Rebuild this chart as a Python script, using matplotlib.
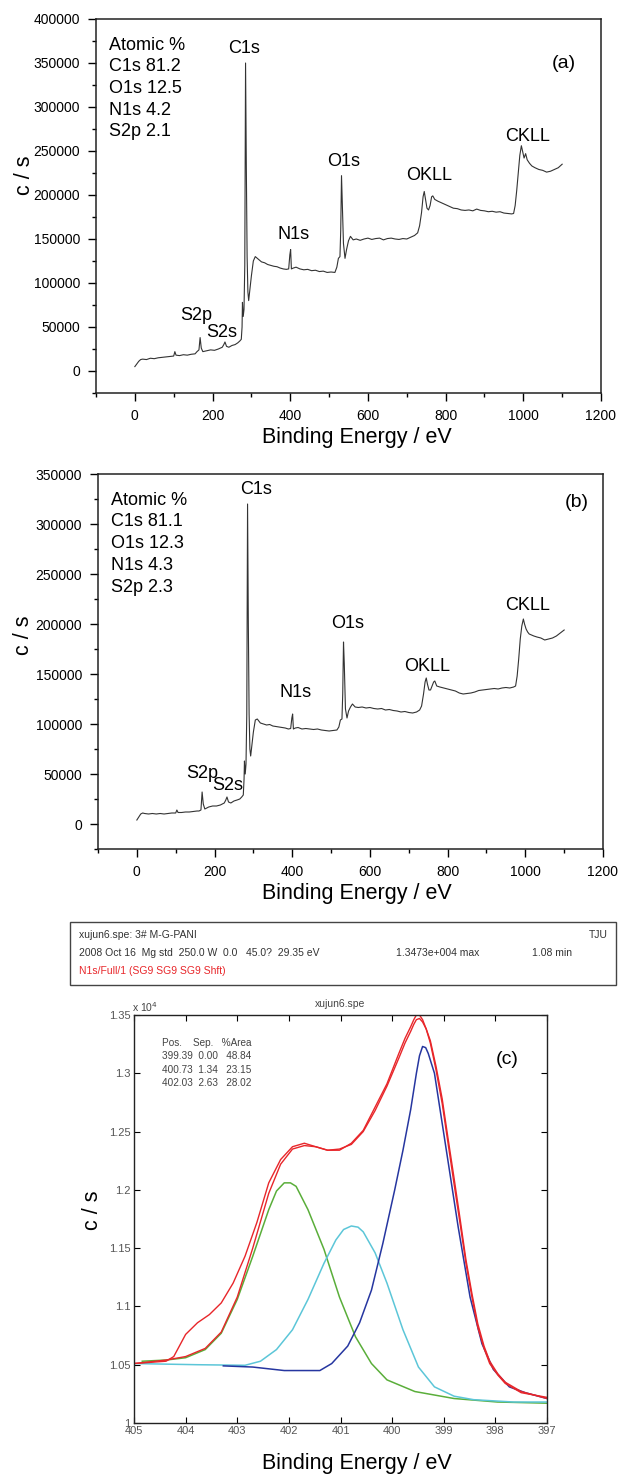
import matplotlib
matplotlib.use("Agg")
import matplotlib.pyplot as plt
from matplotlib.ticker import MultipleLocator
from matplotlib.patches import Rectangle

plt.rcParams["font.family"] = ["Liberation Sans", "DejaVu Sans"]

# ---- survey spectrum (a), binding energy (eV) / counts (x1000 c/s)
a_be = [0, 5, 10, 15, 20, 30, 40, 50, 60, 70, 80, 90, 100, 103, 106, 115, 125, 135, 145, 155,
        160, 165, 168, 171, 175, 185, 195, 205, 215, 225, 229, 232, 236, 242, 250, 258, 265, 270,
        274, 276, 277, 279, 281, 283, 285, 287, 289, 291, 293, 296, 300, 305, 310, 318, 326, 334,
        342, 350, 358, 366, 374, 382, 390, 396, 399, 401, 403, 408, 415, 425, 435, 445, 455, 465,
        475, 485, 495, 505, 515, 520, 524, 528, 530, 532, 534, 537, 541, 545, 550, 555, 562, 570,
        580, 590, 600, 610, 620, 630, 640, 650, 660, 670, 680, 690, 700, 710, 720, 728, 733, 738,
        742, 745, 748, 752, 756, 760, 764, 767, 772, 780, 790, 800, 810, 820, 830, 840, 850, 860,
        870, 880, 890, 900, 910, 920, 930, 940, 950, 960, 970, 975, 979, 983, 987, 991, 995, 998,
        1002, 1006, 1010, 1016, 1022, 1030, 1040, 1050, 1060, 1070, 1080, 1090, 1100]
a_cps = [5, 8, 11, 13, 13.5, 13, 14.5, 14, 15, 15.5, 16, 16.5, 17, 22, 18, 17.5, 18.5, 18, 19, 19.5,
         22, 24, 38, 26, 22, 23, 24, 23.5, 25, 27, 30, 33, 28, 27, 29, 30, 32, 34,
         36, 50, 78, 62, 70, 120, 350, 230, 130, 90, 80, 92, 108, 125, 130, 127, 124, 123,
         121, 120, 119, 118.5, 117, 116, 115.5, 116, 132, 138, 116, 117, 118, 116, 115, 115.5, 114, 114.5,
         113, 113.5, 112, 112.5, 112, 118, 128, 130, 160, 222, 190, 145, 128, 138, 148, 153, 149, 150,
         148.5, 150, 151, 149.5, 150.5, 151, 149, 150.5, 151, 150, 149.5, 150.5, 150, 152, 154, 157, 165, 180,
         198, 204, 196, 185, 183, 188, 198, 199, 195, 193, 191, 189, 187, 185, 184.5, 183, 182.5, 183,
         182, 184, 182.5, 182, 181, 181.5, 180.5, 181, 179.5, 179, 178.5, 179, 188, 205, 225, 245, 256, 250,
         242, 247, 240, 236, 233, 231, 229, 228, 226, 227, 229, 231, 235]

# ---- survey spectrum (b)
b_be = a_be
b_cps = [4, 7, 10, 11, 10.5, 10, 10.5, 10, 10.5, 10, 10.5, 11, 11, 14, 11.5, 11.5, 12, 12, 12.5, 13,
         13, 14, 32, 20, 15, 17, 18, 18, 19, 21, 24, 27, 22, 21, 23, 24, 25, 27,
         29, 45, 63, 50, 60, 110, 320, 200, 110, 75, 68, 78, 92, 104, 105, 101, 100, 99,
         99.5, 98, 97.5, 97, 96.5, 96, 95, 95.5, 106, 110, 95, 96, 96.5, 95, 95.5, 95, 94.5, 95,
         94, 93.5, 93, 93.5, 94, 97, 104, 105, 130, 182, 160, 115, 106, 113, 117, 120, 117, 116.5,
         117, 116, 116.5, 115.5, 115, 115.5, 114, 114.5, 113.5, 113, 112, 112.5, 111.5, 111, 112, 114, 118, 130,
         142, 146, 140, 134, 134, 138, 142, 143, 138, 137, 136, 135, 134, 133, 131, 130, 130.5, 131,
         132, 133.5, 134, 134.5, 135, 135.5, 135, 136, 136.5, 136, 137, 138, 148, 165, 185, 198, 205, 200,
         195, 192, 190, 189, 188, 187, 186, 184, 185, 186, 188, 191, 194]

atomic_a = ["Atomic %", "C1s 81.2", "O1s 12.5", "N1s 4.2", "S2p 2.1"]
atomic_b = ["Atomic %", "C1s 81.1", "O1s 12.3", "N1s 4.3", "S2p 2.3"]
peaks = ["C1s", "N1s", "O1s", "OKLL", "CKLL", "S2p", "S2s"]
peak_pos_a = [(281, 367), (409, 155), (537, 238), (758, 222), (1011, 267), (157, 63.5), (224, 44)]
peak_pos_b = [(306, 334), (409, 131.6), (542, 200.6), (747, 157.3), (1006, 219), (167, 50.7), (233, 38)]

# ---- N1s high-resolution fit (c), counts in units of 1e4 c/s
raw_be = [405.0, 404.38, 404.23, 404.0, 403.77, 403.54, 403.31, 403.08, 402.85, 402.62, 402.39,
          402.16, 401.93, 401.7, 401.48, 401.25, 401.02, 400.79, 400.56, 400.33, 400.1, 399.87,
          399.75, 399.64, 399.58, 399.53, 399.47, 399.41, 399.34, 399.26, 399.15, 399.03, 398.92,
          398.8, 398.68, 398.57, 398.45, 398.34, 398.22, 398.11, 397.95, 397.81, 397.5, 397.0]
raw_cps = [1.051, 1.053, 1.057, 1.076, 1.086, 1.093, 1.103, 1.120, 1.143, 1.172, 1.206,
           1.226, 1.237, 1.240, 1.237, 1.234, 1.234, 1.240, 1.251, 1.271, 1.291, 1.317,
           1.330, 1.340, 1.346, 1.350, 1.350, 1.346, 1.338, 1.326, 1.303, 1.274, 1.241,
           1.205, 1.170, 1.137, 1.107, 1.082, 1.064, 1.051, 1.041, 1.034, 1.026, 1.022]
env_be = [405.0, 404.38, 404.0, 403.62, 403.31, 403.0, 402.7, 402.39, 402.16, 401.93, 401.7,
          401.48, 401.25, 401.02, 400.79, 400.56, 400.33, 400.1, 399.87, 399.75, 399.64, 399.58,
          399.53, 399.47, 399.41, 399.34, 399.26, 399.15, 399.03, 398.92, 398.8, 398.68, 398.57,
          398.45, 398.34, 398.22, 398.11, 397.95, 397.81, 397.5, 397.0]
env_cps = [1.051, 1.054, 1.057, 1.064, 1.078, 1.108, 1.150, 1.197, 1.222, 1.235, 1.238,
           1.237, 1.234, 1.235, 1.239, 1.250, 1.268, 1.289, 1.313, 1.326, 1.336, 1.342,
           1.346, 1.347, 1.344, 1.338, 1.328, 1.306, 1.278, 1.245, 1.210, 1.174, 1.140,
           1.110, 1.085, 1.066, 1.053, 1.042, 1.035, 1.027, 1.021]
p1_be = [403.27, 402.7, 402.09, 401.4, 401.17, 400.86, 400.63, 400.4, 400.18, 399.95, 399.79,
         399.64, 399.53, 399.47, 399.41, 399.35, 399.3, 399.18, 398.95, 398.72, 398.49, 398.26,
         398.04, 397.73, 397.42, 397.0]
p1_cps = [1.049, 1.048, 1.045, 1.045, 1.051, 1.066, 1.086, 1.114, 1.154, 1.200, 1.234,
          1.269, 1.300, 1.315, 1.323, 1.322, 1.317, 1.300, 1.234, 1.168, 1.108, 1.068,
          1.046, 1.031, 1.026, 1.021]
p2_be = [405.0, 403.77, 402.85, 402.55, 402.24, 401.93, 401.63, 401.32, 401.09, 400.94, 400.79,
         400.66, 400.56, 400.33, 400.1, 399.79, 399.49, 399.18, 398.8, 398.42, 397.65, 397.0]
p2_cps = [1.051, 1.050, 1.0495, 1.053, 1.063, 1.080, 1.106, 1.137, 1.157, 1.166, 1.169,
          1.168, 1.164, 1.146, 1.120, 1.080, 1.048, 1.031, 1.023, 1.020, 1.018, 1.018]
p3_be = [404.84, 404.38, 404.0, 403.62, 403.31, 403.0, 402.7, 402.39, 402.24, 402.09, 401.97,
         401.86, 401.63, 401.32, 401.02, 400.71, 400.4, 400.1, 399.56, 398.8, 397.96, 397.0]
p3_cps = [1.053, 1.054, 1.056, 1.063, 1.077, 1.106, 1.143, 1.183, 1.199, 1.206, 1.206,
          1.203, 1.183, 1.149, 1.108, 1.074, 1.051, 1.037, 1.027, 1.021, 1.018, 1.017]
fit_table = ["Pos.    Sep.   %Area", "399.39  0.00   48.84", "400.73  1.34   23.15", "402.03  2.63   28.02"]

W, H = 618, 1474


def survey(ax, be, cps, ymax, atomic, peak_pos, tag, tag_xy):
    ax.plot(be, [v * 1000 for v in cps], color="#333333", lw=0.8)
    ax.set_xlim(-100, 1200)
    ax.set_ylim(-25000, ymax)
    ax.xaxis.set_major_locator(MultipleLocator(200))
    ax.xaxis.set_minor_locator(MultipleLocator(100))
    ax.yaxis.set_major_locator(MultipleLocator(50000))
    ax.yaxis.set_minor_locator(MultipleLocator(25000))
    ax.tick_params(which="major", direction="out", length=5.5, width=1, labelsize=10,
                   top=False, right=False, pad=6)
    ax.tick_params(which="minor", direction="out", length=3, width=1, top=False, right=False)
    for s in ax.spines.values():
        s.set_linewidth(1.1)
        s.set_color("#222222")
    for i, line in enumerate(atomic):
        ax.text(0.025, 0.93 - i * 0.058, line, transform=ax.transAxes, fontsize=13,
                va="center", ha="left")
    for name, (x, y) in zip(peaks, peak_pos):
        ax.text(x, y * 1000, name, fontsize=13, ha="center", va="center")
    ax.text(tag_xy[0], tag_xy[1], tag, transform=ax.transAxes, fontsize=14,
            ha="center", va="center")


fig = plt.figure(figsize=(W / 100, H / 100), dpi=100)

ax_a = fig.add_axes([96 / W, 1 - 393 / H, 505 / W, 374 / H])
survey(ax_a, a_be, a_cps, 400000, atomic_a, peak_pos_a, "(a)", (0.927, 0.882))
ax_b = fig.add_axes([98 / W, 1 - 849 / H, 505 / W, 375 / H])
survey(ax_b, b_be, b_cps, 350000, atomic_b, peak_pos_b, "(b)", (0.949, 0.923))

big = dict(fontsize=15.5, ha="center", va="center")
fig.text(357 / W, 1 - 437 / H, "Binding Energy / eV", **big)
fig.text(25 / W, 1 - 175 / H, "c / s", rotation=90, **big)
fig.text(357 / W, 1 - 893 / H, "Binding Energy / eV", **big)
fig.text(24 / W, 1 - 635 / H, "c / s", rotation=90, **big)

# header box of the fitting software
fig.patches.append(Rectangle((70 / W, 1 - 985 / H), 546 / W, 63 / H,
                             transform=fig.transFigure, fill=False, lw=1.0, ec="#444444"))
small = dict(fontsize=7.5, va="center", color="#333333")
fig.text(79 / W, 1 - 935 / H, "xujun6.spe: 3# M-G-PANI", ha="left", **small)
fig.text(608 / W, 1 - 935 / H, "TJU", ha="right", **small)
fig.text(79 / W, 1 - 953 / H, "2008 Oct 16  Mg std  250.0 W  0.0   45.0?  29.35 eV",
         ha="left", **small)
fig.text(396 / W, 1 - 953 / H, "1.3473e+004 max", ha="left", **small)
fig.text(532 / W, 1 - 953 / H, "1.08 min", ha="left", **small)
fig.text(79 / W, 1 - 971 / H, "N1s/Full/1 (SG9 SG9 SG9 Shft)", ha="left",
         fontsize=7.5, va="center", color="#e8262a")

ax_c = fig.add_axes([134 / W, 1 - 1423 / H, 413 / W, 408 / H])
ax_c.plot(p3_be, p3_cps, color="#5aae3a", lw=1.1)
ax_c.plot(p2_be, p2_cps, color="#5cc6d8", lw=1.1)
ax_c.plot(p1_be, p1_cps, color="#2636a0", lw=1.1)
ax_c.plot(raw_be, raw_cps, color="#e8262a", lw=1.0)
ax_c.plot(env_be, env_cps, color="#e8262a", lw=1.0)
ax_c.set_xlim(405, 397)
ax_c.set_ylim(1.0, 1.35)
ax_c.xaxis.set_major_locator(MultipleLocator(1))
ax_c.set_yticks([1.0, 1.05, 1.1, 1.15, 1.2, 1.25, 1.3, 1.35])
ax_c.set_yticklabels(["1", "1.05", "1.1", "1.15", "1.2", "1.25", "1.3", "1.35"])
ax_c.tick_params(direction="in", length=4, width=0.8, labelsize=8, labelcolor="#555555",
                 top=True, right=True, pad=2.5)
for s in ax_c.spines.values():
    s.set_linewidth(1.0)
    s.set_color("#222222")
for i, line in enumerate(fit_table):
    ax_c.text(0.069, 0.931 - i * 0.0327, line, transform=ax_c.transAxes, fontsize=7.2,
              color="#444444", ha="left", va="center")
ax_c.text(0.903, 0.89, "(c)", transform=ax_c.transAxes, fontsize=14, ha="center", va="center")
ax_c.text(0.499, 1.027, "xujun6.spe", transform=ax_c.transAxes, fontsize=7.5,
          color="#444444", ha="center", va="center")
fig.text(132 / W, 1 - 1007 / H, r"x 10$^4$", fontsize=7.5, color="#444444",
         ha="left", va="center")
fig.text(357 / W, 1 - 1463 / H, "Binding Energy / eV", **big)
fig.text(93 / W, 1 - 1210 / H, "c / s", rotation=90, **big)

fig.savefig("out.png", dpi=100)
